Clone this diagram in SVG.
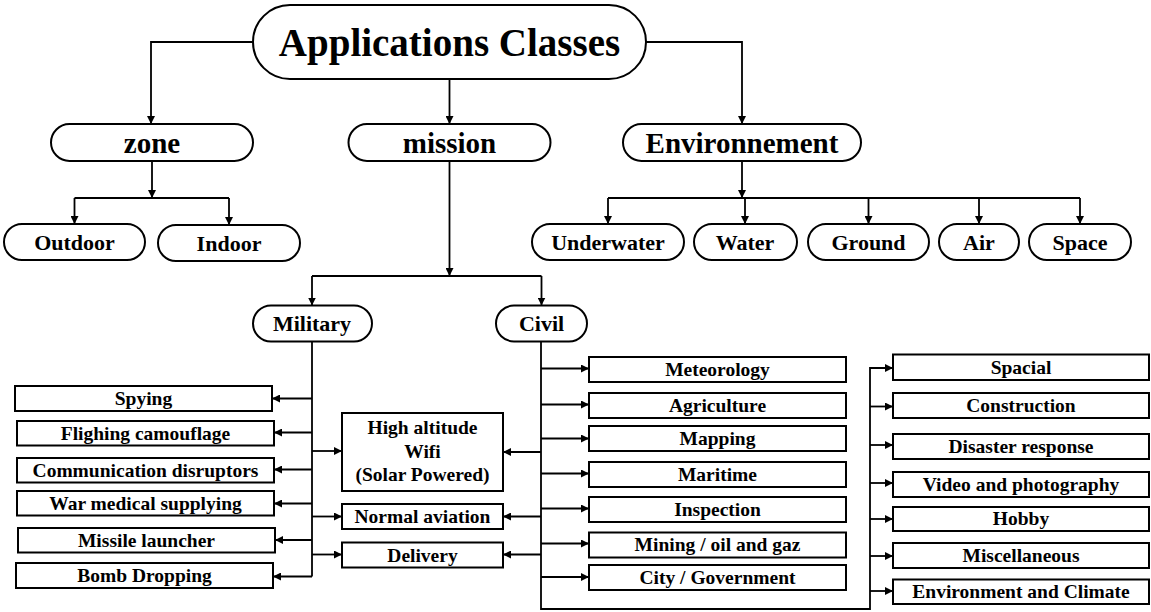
<svg xmlns="http://www.w3.org/2000/svg" width="1151" height="612" viewBox="0 0 1151 612">
<defs>
<marker id="arr" viewBox="0 0 10 10" refX="10" refY="5" markerWidth="8" markerHeight="8" markerUnits="userSpaceOnUse" orient="auto"><path d="M0,0 L10,5 L0,10 z" fill="#000"/></marker>
</defs>
<style>
.n rect{fill:#fff;stroke:#000;stroke-width:2}
.t{font-family:"Liberation Serif","Times New Roman",serif;font-weight:bold;text-anchor:middle;fill:#000}
.s39{font-size:39px}.s29{font-size:29px}.s22{font-size:22px}.s19{font-size:19.5px}
.c path{fill:none;stroke:#000;stroke-width:1.8;marker-end:url(#arr)}
.c path.p{marker-end:none}
</style>
<rect width="1151" height="612" fill="#fff"/>
<g class="c" id="connectors">
<path d="M253,42 H151 V124"/>
<path d="M449.5,79 V124"/>
<path d="M646,42 H742 V124"/>
<path d="M152,161 V198"/>
<path class="p" d="M74.5,198 H229"/>
<path d="M74.5,198 V224"/>
<path d="M229,198 V225"/>
<path d="M742,161 V198"/>
<path class="p" d="M608,198 H1080"/>
<path d="M608,198 V224"/>
<path d="M745,198 V224"/>
<path d="M868.5,198 V224"/>
<path d="M979,198 V224"/>
<path d="M1080,198 V224"/>
<path d="M449.5,161 V276"/>
<path class="p" d="M312,276 H541.5"/>
<path d="M312,276 V305.5"/>
<path d="M541.5,276 V305.5"/>
<path class="p" d="M312,341.5 V576.5"/>
<path d="M312,398.5 H272"/>
<path d="M312,432.5 H274"/>
<path d="M312,469.5 H274"/>
<path d="M312,503.5 H274"/>
<path d="M312,540 H275"/>
<path d="M312,576.5 H273"/>
<path d="M312,451 H342"/>
<path d="M312,516.5 H342"/>
<path d="M312,554.5 H342"/>
<path d="M541,341.5 V609 H870 V368 H893"/>
<path d="M541,452 H503"/>
<path d="M541,516.5 H503"/>
<path d="M541,554.5 H503"/>
<path d="M541,368.5 H589"/>
<path d="M541,404.5 H589"/>
<path d="M541,438.5 H589"/>
<path d="M541,473.5 H589"/>
<path d="M541,508.5 H589"/>
<path d="M541,543.5 H589"/>
<path d="M541,577 H589"/>
<path d="M870,406.5 H893"/>
<path d="M870,445 H893"/>
<path d="M870,483 H893"/>
<path d="M870,519 H893"/>
<path d="M870,556 H893"/>
<path d="M870,591 H893"/>
</g>
<g class="n" id="applications"><rect x="253" y="5" width="393" height="74" rx="37"/><text class="t s39" x="449.5" y="56">Applications Classes</text></g>
<g class="n" id="zone"><rect x="51" y="124" width="202" height="37" rx="18.5"/><text class="t s29" x="152" y="152.5">zone</text></g>
<g class="n" id="mission"><rect x="348.5" y="124" width="202" height="37" rx="18.5"/><text class="t s29" x="449.5" y="152.5">mission</text></g>
<g class="n" id="environnement"><rect x="623" y="124" width="238" height="37" rx="18.5"/><text class="t s29" x="742" y="152.5">Environnement</text></g>
<g class="n" id="outdoor"><rect x="4" y="224" width="141" height="36" rx="18"/><text class="t s22" x="74.5" y="250">Outdoor</text></g>
<g class="n" id="indoor"><rect x="158" y="225" width="142" height="36" rx="18"/><text class="t s22" x="229" y="251">Indoor</text></g>
<g class="n" id="underwater"><rect x="532" y="224" width="152" height="36" rx="18"/><text class="t s22" x="608" y="250">Underwater</text></g>
<g class="n" id="water"><rect x="694" y="224" width="103" height="36" rx="18"/><text class="t s22" x="745" y="250">Water</text></g>
<g class="n" id="ground"><rect x="808" y="224" width="121" height="36" rx="18"/><text class="t s22" x="868.5" y="250">Ground</text></g>
<g class="n" id="air"><rect x="939" y="224" width="80" height="36" rx="18"/><text class="t s22" x="979" y="250">Air</text></g>
<g class="n" id="space"><rect x="1029" y="224" width="102" height="36" rx="18"/><text class="t s22" x="1080" y="250">Space</text></g>
<g class="n" id="military"><rect x="253" y="305.5" width="119" height="36" rx="18"/><text class="t s22" x="312" y="331">Military</text></g>
<g class="n" id="civil"><rect x="496" y="305.5" width="91" height="36" rx="18"/><text class="t s22" x="541.5" y="331">Civil</text></g>
<g class="n" id="spying"><rect x="15" y="386" width="257" height="25"/><text class="t s19" x="143.5" y="405">Spying</text></g>
<g class="n" id="flighing"><rect x="17" y="421" width="257" height="24.5"/><text class="t s19" x="145.5" y="439.5">Flighing camouflage</text></g>
<g class="n" id="communication"><rect x="17" y="458" width="257" height="24.5"/><text class="t s19" x="145.5" y="476.5">Communication disruptors</text></g>
<g class="n" id="war"><rect x="17" y="491" width="257" height="24.5"/><text class="t s19" x="145.5" y="509.5">War medical supplying</text></g>
<g class="n" id="missile"><rect x="18" y="528" width="257" height="24.5"/><text class="t s19" x="146.5" y="546.5">Missile launcher</text></g>
<g class="n" id="bomb"><rect x="16" y="563" width="257" height="25"/><text class="t s19" x="144.5" y="582">Bomb Dropping</text></g>
<g class="n" id="highaltitude"><rect x="342" y="413" width="161" height="78"/><text class="t s19" x="422.5" y="434">High altitude</text><text class="t s19" x="422.5" y="457.5">Wifi</text><text class="t s19" x="422.5" y="481">(Solar Powered)</text></g>
<g class="n" id="normal"><rect x="342" y="504" width="161" height="25"/><text class="t s19" x="422.5" y="523">Normal aviation</text></g>
<g class="n" id="delivery"><rect x="342" y="542.5" width="161" height="25"/><text class="t s19" x="422.5" y="561.5">Delivery</text></g>
<g class="n" id="meteorology"><rect x="589" y="357" width="257" height="25"/><text class="t s19" x="717.5" y="375.5">Meteorology</text></g>
<g class="n" id="agriculture"><rect x="589" y="393" width="257" height="25"/><text class="t s19" x="717.5" y="411.5">Agriculture</text></g>
<g class="n" id="mapping"><rect x="589" y="426" width="257" height="25"/><text class="t s19" x="717.5" y="444.5">Mapping</text></g>
<g class="n" id="maritime"><rect x="589" y="462" width="257" height="25"/><text class="t s19" x="717.5" y="480.5">Maritime</text></g>
<g class="n" id="inspection"><rect x="589" y="497" width="257" height="25"/><text class="t s19" x="717.5" y="515.5">Inspection</text></g>
<g class="n" id="mining"><rect x="589" y="532.5" width="257" height="25"/><text class="t s19" x="717.5" y="551">Mining / oil and gaz</text></g>
<g class="n" id="city"><rect x="589" y="565" width="257" height="25"/><text class="t s19" x="717.5" y="583.5">City / Government</text></g>
<g class="n" id="spacial"><rect x="893" y="354.5" width="256" height="25.5"/><text class="t s19" x="1021" y="373.5">Spacial</text></g>
<g class="n" id="construction"><rect x="893" y="393" width="256" height="25"/><text class="t s19" x="1021" y="411.5">Construction</text></g>
<g class="n" id="disaster"><rect x="893" y="434" width="256" height="25"/><text class="t s19" x="1021" y="452.5">Disaster response</text></g>
<g class="n" id="video"><rect x="893" y="472" width="256" height="25"/><text class="t s19" x="1021" y="490.5">Video and photography</text></g>
<g class="n" id="hobby"><rect x="893" y="507" width="256" height="24"/><text class="t s19" x="1021" y="525">Hobby</text></g>
<g class="n" id="miscellaneous"><rect x="893" y="543" width="256" height="25"/><text class="t s19" x="1021" y="561.5">Miscellaneous</text></g>
<g class="n" id="envclimate"><rect x="893" y="579.5" width="256" height="24.5"/><text class="t s19" x="1021" y="598">Environment and Climate</text></g>
</svg>
